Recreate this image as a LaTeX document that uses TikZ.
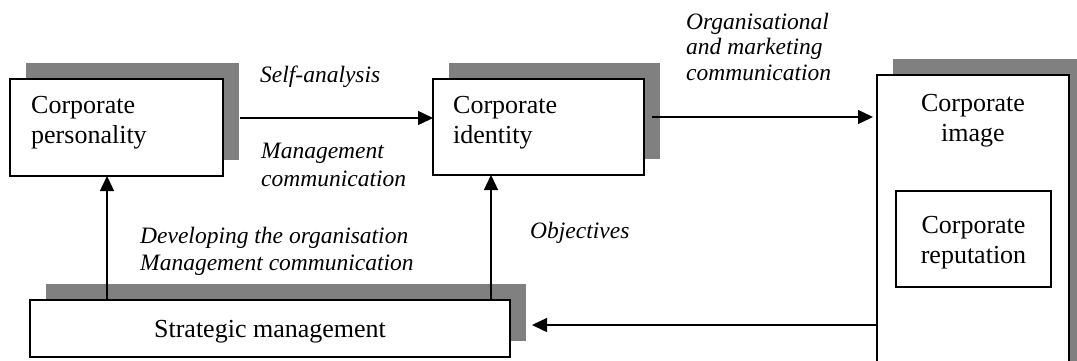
\documentclass[tikz,border=0pt]{standalone}
\usepackage{fontspec}
\setmainfont{Liberation Serif}
\usetikzlibrary{shadows,arrows.meta}
\definecolor{shade}{HTML}{808080}
\begin{document}
\begin{tikzpicture}[x=1pt,y=-1pt,
  box/.style={draw=black, line width=1.6pt, fill=white, inner sep=0pt, outer sep=0pt},
  shbox/.style={box, general shadow={fill=shade, draw=none, shadow xshift=16pt, shadow yshift=16pt}},
  lbl/.style={font=\fontsize{23.5}{27}\selectfont\itshape, align=left, inner sep=0pt, anchor=base west},
  txt/.style={font=\fontsize{26}{29.5}\selectfont, inner sep=0pt},
  arr/.style={-{Triangle[length=15pt,width=14pt]}, line width=1.4pt}]
\useasboundingbox (0,0) rectangle (1077,360);
\clip (0,0) rectangle (1077,360);
% boxes
\node[shbox, minimum width=213pt, minimum height=97pt] (p) at (116.5,127.5) {};
\node[shbox, minimum width=211pt, minimum height=96pt] (i) at (538.5,127) {};
\node[shbox, minimum width=192pt, minimum height=330pt] (c) at (973,240) {};
\node[box, minimum width=155pt, minimum height=96pt] (r) at (973.5,239) {};
\node[shbox, minimum width=480pt, minimum height=57pt] (s) at (270,328.5) {};
% box texts (base anchor = last line baseline)
\node[txt, anchor=base west, align=left] (pt) at (31,143) {Corporate\\personality};
\node[txt, anchor=base west, align=left] (it) at (453,143) {Corporate\\identity};
\node[txt, anchor=base, align=center] (ct) at (973,141) {Corporate\\image};
\node[txt, anchor=base, align=center] (rt) at (973.5,263) {Corporate\\reputation};
\node[txt, anchor=base] (st) at (270,337) {Strategic management};
% connectors
\coordinate (a1) at ([xshift=17pt,yshift=9.5pt]p.east);
\draw[arr] (a1) -- (a1 -| i.west);
\coordinate (a2) at ([xshift=8pt,yshift=10pt]i.east);
\draw[arr, shorten >=4pt] (a2) -- (a2 -| c.west);
\coordinate (a3) at ([xshift=22pt,yshift=3.5pt]s.east);
\draw[arr] (a3 -| c.west) -- (a3);
\coordinate (v1) at ([xshift=-163pt]s.north);
\draw[arr] (v1) -- (v1 |- p.south);
\coordinate (v2) at ([xshift=221pt]s.north);
\draw[arr] (v2) -- (v2 |- i.south);
% labels
\node[lbl] (l1) at (260,82) {Self-analysis};
\node[lbl, font=\fontsize{23.5}{28}\selectfont\itshape] (l2) at (261,186) {Management\\communication};
\node[lbl] (l3) at (140,270) {Developing the organisation\\Management communication};
\node[lbl] (l4) at (530,238) {Objectives};
\node[lbl, font=\fontsize{23.5}{25.5}\selectfont\itshape] (l5) at (686,80) {Organisational\\and marketing\\communication};
\end{tikzpicture}
\end{document}
